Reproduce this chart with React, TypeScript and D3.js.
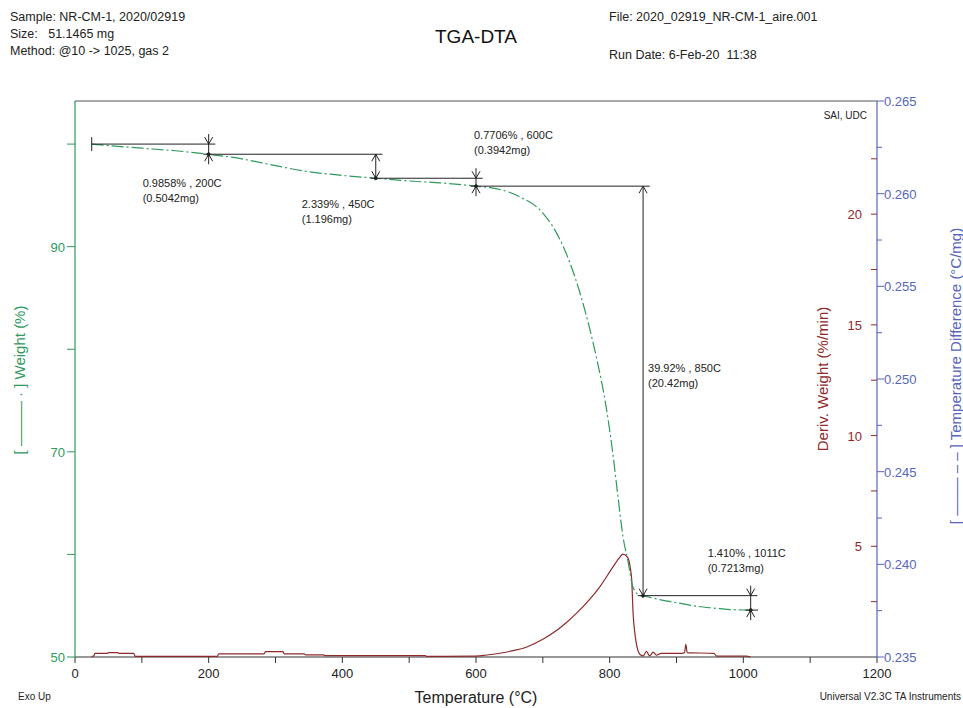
import React from 'react';
import * as d3 from 'd3';

// Weight (%) vs temperature (°C)
const weightTemp = [25, 50, 100, 150, 200, 250, 300, 350, 400, 450, 500, 550, 600, 621, 650, 666, 700, 726, 748, 768, 781, 793, 803.5, 812.5, 820, 827, 835, 845, 850, 875, 900, 925, 950, 975, 1000, 1011];
const weightVal = [100.0, 99.85, 99.6, 99.35, 99.01, 98.55, 97.9, 97.3, 96.95, 96.67, 96.4, 96.2, 95.9, 95.75, 95.3, 94.84, 93.28, 90.65, 87.04, 82.56, 78.95, 75.05, 70.47, 65.6, 61.7, 59.46, 56.8, 56.0, 55.95, 55.6, 55.3, 55.0, 54.8, 54.65, 54.58, 54.57];

// Deriv. weight (%/min) vs temperature (°C)
const derivTemp = [25, 28, 30, 48, 50, 64, 66, 88, 90, 213, 215, 283, 285, 311, 313, 343, 345, 372, 374, 524, 526, 600, 616, 650, 676, 700, 715, 735, 751, 770, 785, 805, 815, 820, 827, 831, 833, 835, 838, 841, 846, 850, 855, 860, 865, 870, 877, 905, 912, 914, 916, 956, 960, 1004, 1011];
const derivVal = [0.02, 0.05, 0.16, 0.16, 0.2, 0.2, 0.16, 0.16, 0.03, 0.03, 0.14, 0.14, 0.24, 0.24, 0.14, 0.14, 0.1, 0.1, 0.06, 0.06, 0.03, 0.04, 0.09, 0.25, 0.45, 0.8, 1.08, 1.55, 1.99, 2.6, 3.16, 4.07, 4.5, 4.65, 4.5, 4.0, 3.48, 2.0, 1.0, 0.45, 0.1, 0.05, 0.25, 0.05, 0.22, 0.08, 0.16, 0.16, 0.2, 0.57, 0.2, 0.16, 0.04, 0.04, 0.0];

// step-change analysis
const stepTemps = [200, 450, 600, 850, 1011];
const stepLevels = [100.0, 99.01, 96.67, 95.9, 55.98, 54.57];
const stepPct = ['0.9858%', '2.339%', '0.7706%', '39.92%', '1.410%'];
const stepMg = ['(0.5042mg)', '(1.196mg)', '(0.3942mg)', '(20.42mg)', '(0.7213mg)'];

const tempTicks = d3.range(0, 1201, 100);
const weightTicks = [50, 60, 70, 80, 90, 100];
const derivTicks = [2.5, 5, 7.5, 10, 12.5, 15, 17.5, 20, 22.5];
const dtaTicks = d3.range(0, 13).map(i => 0.235 + i * 0.0025);

const W = 963, H = 708;
const L = 75, R = 877, T = 101, B = 657;
const GREEN = '#2e9a5c';
const RED = '#8e2a2a';
const BLUE = '#5566bb';
const FONT = '"Liberation Sans", Arial, sans-serif';

const x = d3.scaleLinear().domain([0, 1200]).range([L, R]);
const yW = d3.scaleLinear().domain([50, 104.2]).range([B, T]);
const yD = d3.scaleLinear().domain([0, 25.11]).range([B, T]);
const yT = d3.scaleLinear().domain([0.235, 0.265]).range([B, T]);

// label offsets (px) relative to the step arrow
const labelOffsets = [[-66, 29], [-74, 26], [-2, -43], [5, 182], [-43, -43]];

function StepMarker({ t, top, bot }: { t: number; top: number; bot: number }) {
  const px = x(t);
  const a = 4, h = 7;
  const gap = bot - top;
  if (gap > 20) {
    // arrows inside, pointing outward
    return (
      <g stroke="#222" fill="none" strokeWidth={1}>
        <line x1={px} x2={px} y1={top} y2={bot} />
        <path d={`M${px - a},${top + h}L${px},${top}L${px + a},${top + h}`} />
        <path d={`M${px - a},${bot - h}L${px},${bot}L${px + a},${bot - h}`} />
        <circle cx={px} cy={bot} r={1.5} fill="#222" />
      </g>
    );
  }
  return (
    <g stroke="#222" fill="none" strokeWidth={1}>
      <line x1={px} x2={px} y1={top - 10} y2={bot + 10} />
      <path d={`M${px - a},${top - h}L${px},${top}L${px + a},${top - h}`} />
      <path d={`M${px - a},${bot + h}L${px},${bot}L${px + a},${bot + h}`} />
      <circle cx={px} cy={bot} r={1.5} fill="#222" />
    </g>
  );
}

export default function App() {
  const wLine = d3.line<number>().x((_, i) => x(weightTemp[i])).y(d => yW(d)).curve(d3.curveMonotoneX);
  const dLine = d3.line<number>().x((_, i) => x(derivTemp[i])).y(d => yD(d)).curve(d3.curveMonotoneX);

  const segs: { x1: number; x2: number; y: number }[] = [];
  stepLevels.forEach((lv, k) => {
    const start = k === 0 ? weightTemp[0] : stepTemps[k - 1] - 8;
    const end = k < stepTemps.length ? stepTemps[k] + 10 : stepTemps[k - 1] + 11;
    segs.push({ x1: x(start), x2: x(end), y: yW(lv) });
  });

  return (
    <div style={{ position: 'absolute', left: 0, top: 0 }}>
      <svg width={W} height={H} style={{ display: 'block', background: '#fff' }} fontFamily={FONT}>
        {/* header */}
        <g fontSize={12.5} fill="#222">
          <text x={10} y={21}>Sample: NR-CM-1, 2020/02919</text>
          <text x={10} y={38} xmlSpace="preserve" style={{ whiteSpace: 'pre' }}>{'Size:   51.1465 mg'}</text>
          <text x={10} y={55}>Method: @10 -&gt; 1025, gas 2</text>
          <text x={609} y={21}>File: 2020_02919_NR-CM-1_aire.001</text>
          <text x={609} y={59} xmlSpace="preserve" style={{ whiteSpace: 'pre' }}>{'Run Date: 6-Feb-20  11:38'}</text>
        </g>
        <text x={476} y={43} textAnchor="middle" fontSize={19} fill="#111">TGA-DTA</text>

        {/* frame */}
        <line x1={L} x2={R} y1={T} y2={T} stroke="#555" strokeWidth={1} />
        <line x1={L} x2={R} y1={B} y2={B} stroke="#333" strokeWidth={1} />
        <line x1={L} x2={L} y1={T} y2={B} stroke={GREEN} strokeWidth={1.2} />
        <line x1={R} x2={R} y1={T} y2={B} stroke={BLUE} strokeWidth={1.2} />

        {/* x axis */}
        {tempTicks.map(t => (
          <g key={t}>
            <line x1={x(t)} x2={x(t)} y1={B} y2={B + 6} stroke="#333" />
            {t % 200 === 0 && (
              <text x={x(t)} y={B + 21} textAnchor="middle" fontSize={13} fill="#222">{t}</text>
            )}
          </g>
        ))}
        <text x={476} y={703} textAnchor="middle" fontSize={16} fill="#222">Temperature (°C)</text>
        <text x={18} y={700} fontSize={10} fill="#222">Exo Up</text>
        <text x={961} y={700} textAnchor="end" fontSize={10} fill="#222">Universal V2.3C TA Instruments</text>

        {/* left axis: weight */}
        {weightTicks.map(v => (
          <g key={v}>
            <line x1={L - 8} x2={L} y1={yW(v)} y2={yW(v)} stroke={GREEN} />
            {(v - 50) % 20 === 0 && (
              <text x={L - 10} y={yW(v) + 5} textAnchor="end" fontSize={13} fill={GREEN}>{v}</text>
            )}
          </g>
        ))}
        <text transform={`translate(25,380) rotate(-90)`} textAnchor="middle" fontSize={15} fill={GREEN}>[ ——— · ] Weight (%)</text>

        {/* right axes */}
        {derivTicks.map(v => (
          <g key={v}>
            <line x1={R - 6} x2={R} y1={yD(v)} y2={yD(v)} stroke={RED} />
            {v % 5 === 0 && (
              <text x={R - 15} y={yD(v) + 5} textAnchor="end" fontSize={13} fill={RED}>{v}</text>
            )}
          </g>
        ))}
        <text transform={`translate(828,379) rotate(-90)`} textAnchor="middle" fontSize={15} fill={RED}>Deriv. Weight (%/min)</text>
        {dtaTicks.map((v, i) => (
          <g key={i}>
            <line x1={R} x2={R + (i % 2 === 0 ? 7 : 5)} y1={yT(v)} y2={yT(v)} stroke={BLUE} />
            {i % 2 === 0 && (
              <text x={R + 7} y={yT(v) + 5} fontSize={13} fill={BLUE}>{d3.format('.3f')(v)}</text>
            )}
          </g>
        ))}
        <text transform={`translate(961,376) rotate(-90)`} textAnchor="middle" fontSize={15} fill={BLUE}>[ ——– – – ] Temperature Difference (°C/mg)</text>

        <text x={867} y={119} textAnchor="end" fontSize={10} fill="#222">SAI, UDC</text>

        {/* curves */}
        <path d={dLine(derivVal) || ''} fill="none" stroke={RED} strokeWidth={1.2} />
        <path d={wLine(weightVal) || ''} fill="none" stroke={GREEN} strokeWidth={1.2} strokeDasharray="12,3,2,3" />

        {/* step annotations */}
        {segs.map((s, i) => (
          <line key={i} x1={s.x1} x2={s.x2} y1={s.y} y2={s.y} stroke="#222" strokeWidth={1} />
        ))}
        <line x1={segs[0].x1} x2={segs[0].x1} y1={segs[0].y - 7} y2={segs[0].y + 7} stroke="#222" />
        {stepTemps.map((t, i) => {
          const top = yW(stepLevels[i]);
          const bot = yW(stepLevels[i + 1]);
          const [dx, dy] = labelOffsets[i];
          const lx = x(t) + dx;
          const ly = (i === 3 ? top : i === 2 || i === 4 ? top : bot) + dy;
          return (
            <g key={t}>
              <StepMarker t={t} top={top} bot={bot} />
              <text x={lx} y={ly + 4} fontSize={11} fill="#222">{`${stepPct[i]} , ${t}C`}</text>
              <text x={lx} y={ly + 19} fontSize={11} fill="#222">{stepMg[i]}</text>
            </g>
          );
        })}
      </svg>
    </div>
  );
}
